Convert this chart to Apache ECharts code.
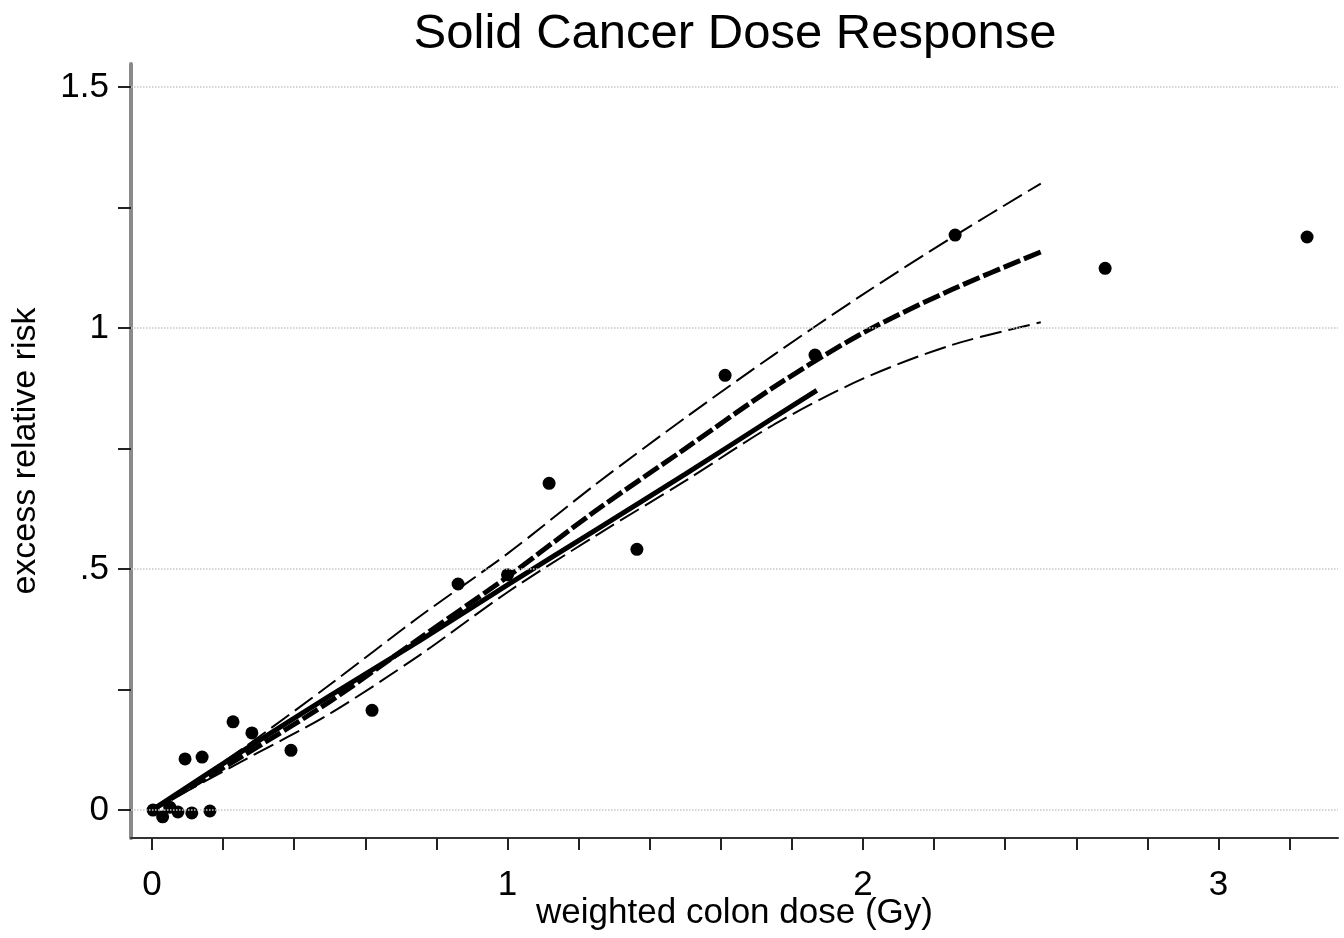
<!DOCTYPE html>
<html>
<head>
<meta charset="utf-8">
<script src="https://cdn.jsdelivr.net/npm/echarts@6/dist/echarts.min.js"></script>
<style>
  html, body { margin: 0; padding: 0; background: #fff; }
  #chart { width: 1344px; height: 938px; }
</style>
</head>
<body>
<div id="chart"></div>
<script>
// fitted curves (dose grid in Gy)
var doses   = [0, 0.25, 0.5, 0.75, 1.0, 1.25, 1.5, 1.75, 2.0, 2.25, 2.5];
var fitErr  = [0, 0.11, 0.225, 0.355, 0.484, 0.622, 0.75, 0.878, 0.99, 1.08, 1.158];
var upperCI = [0, 0.125, 0.26, 0.40, 0.532, 0.677, 0.814, 0.945, 1.07, 1.188, 1.30];
var lowerCI = [0, 0.10, 0.20, 0.32, 0.452, 0.57, 0.683, 0.80, 0.895, 0.965, 1.012];
// linear fit, shorter range
var linDoses = [0, 0.25, 0.5, 0.75, 1.0, 1.25, 1.5, 1.75, 1.87];
var linErr   = [0, 0.12, 0.237, 0.35, 0.467, 0.582, 0.697, 0.815, 0.871];
// dose category points
var ptDose = [0.003, 0.03, 0.05, 0.073, 0.112, 0.163, 0.093, 0.141, 0.228, 0.281, 0.391, 0.619, 0.861, 1.0, 1.117, 1.364, 1.612, 1.865, 2.259, 2.681, 3.249];
var ptErr  = [0, -0.014, 0.006, -0.004, -0.006, -0.002, 0.106, 0.11, 0.183, 0.16, 0.124, 0.207, 0.469, 0.488, 0.678, 0.541, 0.902, 0.944, 1.193, 1.124, 1.189];
// ticks
var xTicks  = [0, 0.2, 0.4, 0.6, 0.8, 1, 1.2, 1.4, 1.6, 1.8, 2, 2.2, 2.4, 2.6, 2.8, 3, 3.2];
var xLabels = [0, 1, 2, 3];
var yTicks  = [0, 0.25, 0.5, 0.75, 1, 1.25, 1.5];
var yLabels = [0, 0.5, 1, 1.5];

function pairs(xs, ys) {
    return xs.map(function (x, i) { return [x, ys[i]]; });
}

var chart = echarts.init(document.getElementById('chart'));
var font = 'Liberation Sans, Arial, sans-serif';

var option = {
    backgroundColor: '#fff',
    animation: false,
    title: {
        text: 'Solid Cancer Dose Response',
        left: 730,
        top: 5,
        textAlign: 'center',
        textStyle: { fontFamily: font, fontSize: 49, fontWeight: 'normal', color: '#000' }
    },
    grid: { left: 131, right: 6, top: 64, bottom: 100, outerBoundsMode: 'none', containLabel: false },
    xAxis: {
        type: 'value',
        min: -0.059,
        max: 3.336,
        name: 'weighted colon dose (Gy)',
        nameLocation: 'middle',
        nameGap: 75,
        nameMoveOverlap: false,
        nameTextStyle: { fontFamily: font, fontSize: 35, color: '#000', verticalAlign: 'middle' },
        axisLine: { show: true, onZero: false, lineStyle: { color: '#333', width: 2 } },
        axisTick: { show: true, length: 12, customValues: xTicks, lineStyle: { color: '#222', width: 2 } },
        axisLabel: { customValues: xLabels, margin: 30, fontFamily: font, fontSize: 35, color: '#000' },
        splitLine: { show: false }
    },
    yAxis: {
        type: 'value',
        min: -0.058,
        max: 1.548,
        name: 'excess relative risk',
        nameLocation: 'middle',
        nameRotate: 90,
        nameGap: 88,
        nameMoveOverlap: false,
        nameTextStyle: { fontFamily: font, fontSize: 34, color: '#000' },
        axisLine: { show: true, onZero: false, lineStyle: { color: '#8a8a8a', width: 4 } },
        axisTick: { show: true, length: 13, customValues: yTicks, lineStyle: { color: '#222', width: 2 } },
        axisLabel: {
            customValues: yLabels,
            margin: 22,
            fontFamily: font,
            fontSize: 35,
            color: '#000',
            formatter: function (v) { return String(v).replace(/^0\./, '.'); }
        },
        splitLine: { show: false }
    },
    series: [
        {
            name: 'upper',
            type: 'line',
            data: pairs(doses, upperCI),
            smooth: 0.3,
            showSymbol: false,
            lineStyle: { color: '#000', width: 2, type: [22, 7] }
        },
        {
            name: 'lower',
            type: 'line',
            data: pairs(doses, lowerCI),
            smooth: 0.3,
            showSymbol: false,
            lineStyle: { color: '#000', width: 2, type: [22, 7] }
        },
        {
            name: 'fit',
            type: 'line',
            data: pairs(doses, fitErr),
            smooth: 0.3,
            showSymbol: false,
            lineStyle: { color: '#000', width: 5, type: [18, 4] }
        },
        {
            name: 'linear',
            type: 'line',
            data: pairs(linDoses, linErr),
            smooth: 0.3,
            showSymbol: false,
            lineStyle: { color: '#000', width: 5 }
        },
        {
            name: 'points',
            type: 'scatter',
            data: pairs(ptDose, ptErr),
            symbolSize: 13,
            itemStyle: { color: '#000', opacity: 1 },
            markLine: {
                silent: true,
                symbol: 'none',
                label: { show: false },
                lineStyle: { color: '#c8c8c8', width: 1.5, type: 'dotted' },
                data: yLabels.map(function (v) { return { yAxis: v }; })
            }
        }
    ]
};
chart.setOption(option);
</script>
</body>
</html>
